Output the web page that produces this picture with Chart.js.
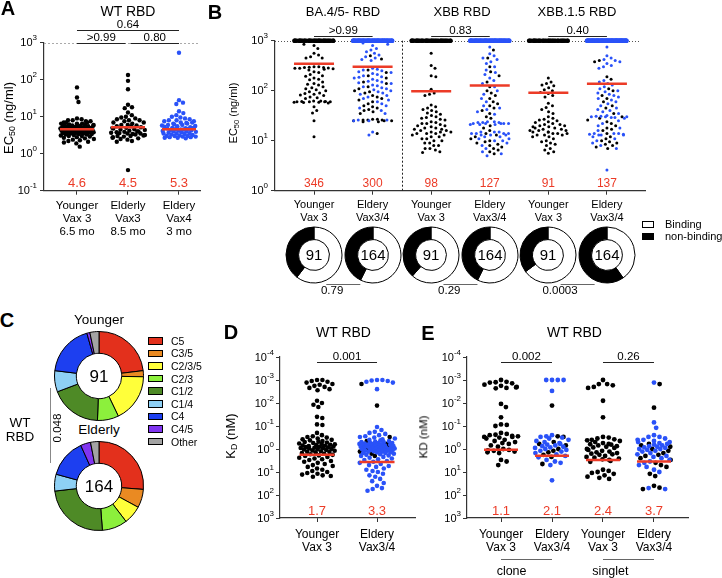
<!DOCTYPE html>
<html>
<head>
<meta charset="utf-8">
<script src="https://cdn.jsdelivr.net/npm/chart.js@4.4.1/dist/chart.umd.min.js"></script>
<style>
  body { margin:0; width:722px; height:578px; position:relative; overflow:hidden; background:#fff;
         font-family:"Liberation Sans", Arial, Helvetica, sans-serif; color:#000; }
  canvas { position:absolute; }
  .lbl { position:absolute; transform:translate(-50%,-50%); white-space:nowrap; line-height:1; }
  .lft { transform:translate(0,-50%); }
  .rot { transform:translate(-50%,-50%) rotate(-90deg); }
  .bold { font-weight:bold; }
  .box { position:absolute; border:1px solid #000; box-sizing:border-box; }
  sub { font-size:0.68em; vertical-align:-0.3em; line-height:0; }
</style>
</head>
<body>
<canvas id="chartA" width="210" height="245" style="left:0px;top:0px"></canvas>
<canvas id="chartB" width="522" height="300" style="left:200px;top:0px"></canvas>
<canvas id="chartD" width="200" height="258" style="left:220px;top:320px"></canvas>
<canvas id="chartE" width="322" height="258" style="left:400px;top:320px"></canvas>
<canvas id="pieYounger" width="92" height="92" style="left:53px;top:330px"></canvas>
<canvas id="pieElderly" width="92" height="92" style="left:53px;top:440px"></canvas>
<script>
const FONT = '"Liberation Sans", Arial, Helvetica, sans-serif';
const BLACK = '#000', BLUE = '#2a52f8', RED = '#ec3b27';
Chart.defaults.font.family = FONT;

// ---- A: WT RBD EC50 (ng/ml) ----
const aTicks = [0.1, 1, 10, 100, 1000];
const aCats = [['Younger', 'Vax 3', '6.5 mo'], ['Elderly', 'Vax3', '8.5 mo'], ['Eldery', 'Vax4', '3 mo']];
const aYounger = [62, 33, 25, 9, 8.5, 8, 8, 7.5, 7.5, 7, 7, 7, 6.5, 6.5, 6.5, 6.2, 6, 6, 6, 6, 5.8, 5.7, 5.6, 5.5, 5.5, 5.4, 5.3, 5.2, 5.1, 5, 5, 5, 4.9, 4.8, 4.8, 4.7, 4.7, 4.6, 4.6, 4.5, 4.5, 4.5, 4.4, 4.4, 4.3, 4.3, 4.2, 4.2, 4.1, 4.1, 4, 4, 4, 3.9, 3.9, 3.8, 3.8, 3.7, 3.7, 3.6, 3.6, 3.5, 3.5, 3.4, 3.4, 3.3, 3.3, 3.2, 3.1, 3, 3, 2.9, 2.8, 2.7, 2.6, 2.5, 2.4, 2.3, 2.2, 2.1, 2, 1.9, 1.55];
const aElderly = [134, 93, 55, 21, 18, 17, 13, 11, 10, 9.5, 9, 8.5, 8, 8, 7.5, 7, 7, 6.5, 6, 6, 5.8, 5.5, 5.5, 5.2, 5, 5, 4.8, 4.6, 4.5, 4.4, 4.2, 4, 4, 3.9, 3.8, 3.7, 3.6, 3.5, 3.5, 3.4, 3.3, 3.2, 3.1, 3, 3, 2.9, 2.8, 2.7, 2.6, 2.5, 2.4, 2.2, 2.1, 0.36];
const aElderlyVax4 = [537, 28, 24, 22, 14, 12.5, 11, 10, 9.5, 9, 8.5, 8, 8, 7.5, 7.5, 7, 7, 6.8, 6.5, 6.5, 6.2, 6, 6, 5.8, 5.6, 5.5, 5.4, 5.2, 5, 5, 4.9, 4.8, 4.7, 4.6, 4.5, 4.5, 4.4, 4.3, 4.2, 4.1, 4, 4, 3.9, 3.8, 3.7, 3.6, 3.5, 3.5, 3.4, 3.3, 3.2, 3.1, 3, 3, 3, 2.9, 2.9, 2.8, 2.8, 2.7, 2.7, 2.6];
const aMedianLine = [4.6, 5.2, 4.6];
const aMedianText = ['4.6', '4.5', '5.3'];

// ---- B: variant RBD EC50 ----
const bTicks = [1, 10, 100, 1000];
const bCats = [['Younger', 'Vax 3'], ['Eldery', 'Vax3/4'], ['Younger', 'Vax 3'], ['Eldery', 'Vax3/4'], ['Younger', 'Vax 3'], ['Eldery', 'Vax3/4']];
const bTitles = ['BA.4/5- RBD', 'XBB RBD', 'XBB.1.5 RBD'];
const bYoungerBA = [850, 800, 700, 560, 520, 480, 450, 450, 300, 300, 295, 290, 290, 285, 280, 280, 275, 270, 260, 240, 230, 210, 200, 195, 180, 170, 165, 150, 140, 135, 130, 120, 115, 110, 105, 100, 95, 90, 88, 85, 82, 80, 75, 72, 70, 62, 62, 61, 61, 60, 60, 60, 60, 59, 59, 58, 57, 48, 40, 36, 25, 12];
const bElderlyBAVax3 = [500, 430, 260, 230, 200, 180, 150, 140, 120, 110, 100, 95, 90, 80, 75, 70, 65, 60, 55, 50, 48, 45, 42, 40, 38, 35, 27, 27, 26, 26, 26, 25, 25, 25, 24, 24, 14];
const bElderlyBAVax4 = [900, 850, 800, 700, 650, 600, 560, 520, 480, 450, 420, 400, 280, 270, 260, 250, 240, 230, 220, 210, 200, 190, 185, 180, 170, 160, 155, 150, 145, 140, 130, 125, 120, 115, 110, 105, 100, 95, 90, 85, 80, 75, 70, 65, 60, 55, 50, 45, 40, 35, 26, 26, 25, 25, 15, 13];
const bYoungerXBB = [560, 320, 280, 200, 190, 107, 90, 85, 80, 52, 48, 45, 42, 40, 38, 36, 34, 32, 30, 29, 28, 27, 26, 24, 23, 22, 22, 21, 20, 20, 19, 18, 18, 17, 17, 16, 16, 15, 15, 15, 14, 14, 14, 13, 13, 12, 12, 11, 11, 10, 10, 9, 9, 8, 8, 7, 7, 6.5, 6, 5.8];
const bElderlyXBBVax3 = [650, 450, 300, 240, 200, 150, 120, 100, 90, 80, 70, 60, 55, 50, 45, 40, 35, 30, 28, 20, 18, 16, 14, 13, 12, 11, 10, 9.5, 9, 8.5, 8, 7.5, 7, 6.5, 6, 5.5];
const bElderlyXBBVax4 = [750, 550, 500, 450, 420, 380, 350, 300, 260, 230, 210, 180, 160, 140, 120, 100, 85, 70, 60, 50, 45, 42, 38, 34, 24, 24, 23, 23, 23, 22, 22, 22, 22, 22, 21, 21, 21, 15, 15, 15, 14, 14, 14, 14, 13, 13, 13, 12, 12, 11, 11, 10, 10, 9, 8, 7, 6, 5.5, 5];
const bYoungerXBB15 = [180, 150, 140, 130, 125, 115, 105, 100, 92, 88, 80, 75, 56, 50, 46, 42, 38, 35, 30, 28, 27, 26, 25, 24, 23, 22, 21, 21, 20, 20, 19, 19, 18, 18, 17, 17, 16, 16, 16, 15, 15, 15, 14, 14, 14, 13, 13, 13, 12, 12, 11, 10, 9.5, 9, 8.5, 8, 7, 6.5, 6, 5.6];
const bElderlyXBB15Vax3 = [400, 380, 190, 170, 110, 100, 80, 70, 60, 50, 45, 35, 30, 28, 26, 24, 22, 20, 18, 17, 16, 14, 12, 11, 10, 9.5, 9, 8.5, 8, 7.5, 7];
const bElderlyXBB15Vax4 = [750, 500, 450, 420, 400, 380, 350, 320, 300, 280, 160, 150, 140, 130, 120, 110, 100, 95, 90, 85, 80, 75, 70, 65, 60, 55, 50, 45, 42, 40, 38, 35, 32, 31, 31, 30, 30, 30, 29, 29, 28, 25, 22, 20, 18, 16, 14, 14, 14, 13.5, 13.5, 13, 13, 13, 12, 11, 10, 9, 8, 7, 2.6];
const bMedians = [346, 300, 98, 127, 91, 137];
// binding / non-binding counts (donuts); non-binding clones sit at the 10^3 limit
const bBinding = [55, 94, 56, 94, 59, 66];
const bNonBinding = [36, 70, 35, 70, 32, 98];
const bLimit = 1000;
const bDonutP = ['0.79', '0.29', '0.0003'];

// ---- C: epitope classes ----
const cClasses = ['C5', 'C3/5', 'C2/3/5', 'C2/3', 'C1/2', 'C1/4', 'C4', 'C4/5', 'Other'];
const cColors = ['#e3301c', '#ea8a22', '#ffff3a', '#8cf03c', '#4e8a26', '#8ed0f5', '#1d3ff0', '#8035f0', '#a3a3a3'];
const cYounger = [21, 2, 16, 7, 17, 7, 17, 1, 3];
const cElderly = [43, 11, 11, 15, 40, 10, 23, 6, 5];

// ---- D / E: KD (nM) ----
const kdTicks = [1e-4, 1e-3, 1e-2, 1e-1, 1, 10, 100, 1000];
const dCats = [['Younger', 'Vax 3'], ['Eldery', 'Vax3/4']];
const dYounger = [0.001, 0.001, 0.0011, 0.0012, 0.0013, 0.0015, 0.0016, 0.0018, 0.002, 0.0022, 0.0025, 0.0028, 0.008, 0.01, 0.012, 0.015, 0.04, 0.045, 0.085, 0.09, 0.2, 0.25, 0.28, 0.3, 0.32, 0.35, 0.38, 0.4, 0.42, 0.45, 0.48, 0.5, 0.52, 0.55, 0.58, 0.6, 0.62, 0.65, 0.68, 0.7, 0.72, 0.75, 0.78, 0.8, 0.82, 0.85, 0.88, 0.9, 0.92, 0.95, 1, 1, 1.05, 1.1, 1.15, 1.2, 1.25, 1.3, 1.35, 1.4, 1.5, 1.6, 1.7, 1.8, 1.9, 2, 2.2, 2.4, 2.6, 2.8, 3, 3.3, 3.6, 4, 4.5, 5, 5.5, 6, 7, 8, 9, 10, 11, 12, 13, 14, 15, 16];
const dElderlyVax3 = [0.0015, 0.013, 0.3, 0.45, 0.6, 0.8, 1, 1.3, 1.6, 2];
const dElderlyVax4 = [0.001, 0.001, 0.00105, 0.0011, 0.0012, 0.0013, 0.0025, 0.11, 0.15, 0.18, 0.2, 0.22, 0.25, 0.28, 0.3, 0.32, 0.35, 0.38, 0.4, 0.42, 0.45, 0.48, 0.5, 0.5, 0.52, 0.55, 0.55, 0.58, 0.6, 0.6, 0.62, 0.65, 0.65, 0.68, 0.7, 0.7, 0.72, 0.75, 0.75, 0.78, 0.8, 0.8, 0.82, 0.85, 0.85, 0.88, 0.9, 0.9, 0.92, 0.95, 0.95, 1, 1, 1, 1.05, 1.1, 1.1, 1.15, 1.2, 1.2, 1.25, 1.3, 1.3, 1.4, 1.4, 1.5, 1.5, 1.6, 1.7, 1.8, 1.9, 2, 2.2, 2.4, 2.6, 2.8, 3, 3.3, 3.6, 4, 4.5, 5, 5.5, 6, 7, 8, 9, 10, 12, 14, 16, 20, 25, 30, 40, 50, 55, 65];
const dMedianLine = [1.8, 3.7];
const dMedianText = ['1.7', '3.3'];

const eCats = [['Younger', 'Vax 3'], ['Eldery', 'Vax3/4'], ['Younger', 'Vax 3'], ['Eldery', 'Vax3/4']];
const eYoungerClone = [0.001, 0.0012, 0.00125, 0.0013, 0.0014, 0.0016, 0.0018, 0.002, 0.0021, 0.0022, 0.0023, 0.011, 0.015, 0.042, 0.085, 0.09, 0.1, 0.2, 0.22, 0.24, 0.25, 0.27, 0.28, 0.3, 0.3, 0.32, 0.35, 0.4, 0.45, 0.5, 0.55, 0.6, 0.7, 0.8, 1, 1.1, 1.15, 1.2, 1.3, 1.4, 1.5, 3, 3.5, 5];
const eElderlyCloneVax3 = [0.013, 0.28, 0.3, 0.5, 0.6, 0.7, 1, 1.2, 1.4, 1.8, 2.2, 4.5];
const eElderlyCloneVax4 = [0.001, 0.001, 0.001, 0.001, 0.003, 0.25, 0.28, 0.3, 0.32, 0.35, 0.4, 0.45, 0.5, 0.55, 0.6, 0.65, 0.7, 0.75, 0.8, 0.85, 0.9, 1, 1.1, 1.2, 1.3, 1.5, 1.7, 2, 2.3, 3, 3.5, 4, 5, 23];
const eYoungerSinglet = [0.001, 0.0015, 0.0015, 0.0017, 0.002, 0.0022, 0.008, 0.042, 0.3, 0.32, 0.35, 0.38, 0.4, 0.42, 0.45, 0.5, 0.55, 0.6, 0.62, 0.65, 0.7, 0.75, 0.8, 0.85, 0.9, 1, 1.1, 1.2, 1.3, 1.4, 1.5, 1.6, 1.7, 1.8, 2, 2.2, 2.4, 2.6, 2.8, 3, 3.3, 3.6, 8, 9, 10, 11, 12, 14, 16, 18, 20];
const eElderlySingletVax3 = [0.0015, 0.016, 0.6, 0.7, 0.8, 1, 1.2, 1.5, 1.8, 2, 2.5, 3, 4, 5, 6, 12, 15, 40, 48, 55];
const eElderlySingletVax4 = [0.0013, 0.07, 0.12, 0.25, 0.3, 0.3, 0.35, 0.4, 0.4, 0.45, 0.5, 0.5, 0.55, 0.6, 0.65, 0.7, 0.75, 0.8, 0.85, 0.9, 1, 1, 1.1, 1.2, 1.3, 1.5, 1.7, 2, 2.2, 2.5, 3, 3.5, 4, 5, 6, 8, 10, 50, 55];
const eMedianLine = [1.08, 1.95, 3.0, 3.5];
const eMedianText = ['1.1', '2.1', '2.4', '3.7'];

// repeated points at the assay limit
function atLimit(n) { const out = []; for (let k = 0; k < n; k++) out.push(bLimit); return out; }

// "10" with a raised exponent
function drawPow(ctx, x, y, v, size) {
  const e = String(Math.round(Math.log10(v)));
  const es = Math.round(size * 0.72);
  ctx.textAlign = 'right';
  ctx.textBaseline = 'middle';
  ctx.font = `${es}px ${FONT}`;
  const ew = ctx.measureText(e).width;
  ctx.fillText(e, x, y - size * 0.42);
  ctx.font = `${size}px ${FONT}`;
  ctx.fillText('10', x - ew, y + 0.5);
}

function decor(cfg) {
  return {
    id: 'decor',
    beforeDatasetsDraw(chart) {
      const { ctx, chartArea: ca, scales: { x, y } } = chart;
      ctx.save();
      (cfg.hDotted || []).forEach(h => {
        const py = Math.round(y.getPixelForValue(h.value)) + 0.5;
        ctx.strokeStyle = h.color; ctx.lineWidth = 1; ctx.setLineDash(h.dash);
        ctx.beginPath(); ctx.moveTo(ca.left, py); ctx.lineTo(ca.right - (h.cut || 0), py); ctx.stroke();
      });
      (cfg.vDotted || []).forEach(v => {
        const px = Math.round(x.getPixelForValue(v.value)) + 0.5;
        ctx.strokeStyle = v.color; ctx.lineWidth = 1; ctx.setLineDash(v.dash);
        ctx.beginPath(); ctx.moveTo(px, ca.top); ctx.lineTo(px, ca.bottom); ctx.stroke();
      });
      ctx.restore();
    },
    afterDatasetsDraw(chart) {
      const { ctx, chartArea: ca, scales: { x, y } } = chart;
      ctx.save();
      // median bars and values
      cfg.medians.forEach((m, i) => {
        const px = x.getPixelForValue(i + 1), py = y.getPixelForValue(m);
        ctx.strokeStyle = RED; ctx.lineWidth = 2.5;
        ctx.beginPath(); ctx.moveTo(px - cfg.medianHalf, py); ctx.lineTo(px + cfg.medianHalf, py); ctx.stroke();
        ctx.fillStyle = RED; ctx.font = `${cfg.medianFont}px ${FONT}`;
        ctx.textAlign = 'center'; ctx.textBaseline = 'middle';
        ctx.fillText(cfg.medianText[i], px, ca.bottom + cfg.medianDy);
      });
      // comparison brackets
      ctx.fillStyle = '#000'; ctx.strokeStyle = '#222'; ctx.lineWidth = 1;
      (cfg.brackets || []).forEach(b => {
        const x1 = x.getPixelForValue(b.a) + (b.padA || 0), x2 = x.getPixelForValue(b.b) - (b.padB || 0);
        const ly = Math.round(ca.top + b.dy) + 0.5;
        ctx.beginPath(); ctx.moveTo(x1, ly); ctx.lineTo(x2, ly); ctx.stroke();
        ctx.font = `11.5px ${FONT}`; ctx.textAlign = 'center'; ctx.textBaseline = 'alphabetic';
        ctx.fillText(b.text, (x1 + x2) / 2, ly - 3);
      });
      // category labels
      ctx.font = `${cfg.catFont}px ${FONT}`; ctx.textAlign = 'center'; ctx.textBaseline = 'middle';
      cfg.cats.forEach((lines, i) => {
        const px = x.getPixelForValue(i + 1);
        lines.forEach((t, k) => ctx.fillText(t, px, ca.bottom + cfg.catY + k * cfg.catLH));
      });
      // y tick labels
      cfg.yTicks.forEach(v => drawPow(ctx, ca.left - cfg.tickGap, y.getPixelForValue(v), v, cfg.tickFont));
      // group underlines (clone / singlet) and donut p-values
      ctx.strokeStyle = '#666';
      (cfg.groupLabels || []).forEach(g => {
        const x1 = x.getPixelForValue(g.a), x2 = x.getPixelForValue(g.b);
        const ly = Math.round(ca.bottom + 41) + 0.5;
        ctx.beginPath(); ctx.moveTo(x1, ly); ctx.lineTo(x2, ly); ctx.stroke();
        ctx.font = `12.5px ${FONT}`; ctx.textBaseline = 'middle';
        ctx.fillText(g.text, (x1 + x2) / 2, ly + 12);
      });
      (cfg.pairs || []).forEach(p => {
        const mid = (x.getPixelForValue(p.a) + x.getPixelForValue(p.b)) / 2;
        ctx.beginPath(); ctx.moveTo(mid - 17, 284.5); ctx.lineTo(mid + 17, 284.5); ctx.stroke();
        ctx.font = `11.5px ${FONT}`; ctx.textBaseline = 'middle';
        ctx.fillText(p.text, mid, 291);
      });
      ctx.restore();
    }
  };
}

// beeswarm: x offsets from the y pixel of each value
function swarmLayout(chart, cfg) {
  const xs = chart.scales.x, ys = chart.scales.y;
  const unit = xs.getPixelForValue(2) - xs.getPixelForValue(1);
  const d = 2 * cfg.r + cfg.gap;
  chart.data.datasets.forEach((ds, gi) => {
    const items = ds.data.map(p => ({ p, py: ys.getPixelForValue(p.y) }));
    items.sort((u, w) => u.py - w.py);
    const placed = [];
    items.forEach((it, k) => {
      const near = placed.filter(q => Math.abs(q.py - it.py) < d);
      const cands = [0];
      near.forEach(q => {
        const dx = Math.sqrt(d * d - (q.py - it.py) ** 2);
        cands.push(q.px + dx, q.px - dx);
      });
      cands.sort((u, w) => Math.abs(u) - Math.abs(w));
      let px = cands.find(c => Math.abs(c) <= cfg.half &&
        near.every(q => (q.px - c) ** 2 + (q.py - it.py) ** 2 >= d * d - 0.01));
      if (px === undefined) px = cfg.half * (((k * 0.618) % 1) * 2 - 1);
      it.px = px;
      placed.push(it);
      it.p.x = gi + 1 + px / unit;
    });
  });
  chart.update('none');
}

function swarmChart(id, cfg) {
  const cv = document.getElementById(id);
  const W = cv.width, H = cv.height, a = cfg.area;
  const datasets = cfg.groups.map((parts, gi) => {
    const pts = [], cols = [], rads = [];
    parts.forEach(([vals, col, rad]) => vals.forEach(v => {
      pts.push({ x: gi + 1, y: v }); cols.push(col); rads.push(rad || cfg.r);
    }));
    return { data: pts, pointBackgroundColor: cols, pointBorderWidth: 0, pointRadius: rads, pointHoverRadius: rads, showLine: false, clip: false };
  });
  const axisColor = '#333';
  const chart = new Chart(cv, {
    type: 'scatter',
    data: { datasets },
    options: {
      responsive: false, animation: false, events: [],
      layout: { padding: { top: a.top, right: W - a.right, left: 0, bottom: 0 } },
      plugins: { legend: { display: false }, tooltip: { enabled: false } },
      scales: {
        x: {
          type: 'linear', min: cfg.xMin, max: cfg.xMax,
          afterBuildTicks: s => { s.ticks = cfg.cats.map((c, i) => ({ value: i + 1 })); },
          afterFit: s => { s.height = H - a.bottom; },
          ticks: { display: false },
          grid: { drawOnChartArea: false, drawTicks: true, tickLength: 4, color: axisColor, lineWidth: 1 },
          border: { color: axisColor, width: 1.2 }
        },
        y: {
          type: 'logarithmic', min: cfg.yMin, max: cfg.yMax, reverse: !!cfg.reverse,
          afterBuildTicks: s => { s.ticks = cfg.yTicks.map(v => ({ value: v })); },
          afterFit: s => { s.width = a.left; },
          ticks: { display: false },
          grid: { drawOnChartArea: false, drawTicks: true, tickLength: 4, color: axisColor, lineWidth: 1 },
          border: { color: axisColor, width: 1.2 }
        }
      }
    },
    plugins: [decor(cfg)]
  });
  swarmLayout(chart, cfg);
  return chart;
}

function ringChart(cv, data, colors, cutout, fontSize, pad) {
  return new Chart(cv, {
    type: 'doughnut',
    data: { labels: data.map((d, i) => String(i)), datasets: [{ data, backgroundColor: colors, borderColor: '#000', borderWidth: 1, hoverOffset: 0, offset: 0 }] },
    options: {
      responsive: false, animation: false, events: [], cutout,
      layout: { padding: pad },
      plugins: { legend: { display: false }, tooltip: { enabled: false } }
    },
    plugins: [{
      id: 'center',
      afterDraw(chart) {
        const { ctx, chartArea: ca } = chart;
        const total = chart.data.datasets[0].data.reduce((s, v) => s + v, 0);
        ctx.save();
        ctx.fillStyle = '#000'; ctx.font = `${fontSize}px ${FONT}`;
        ctx.textAlign = 'center'; ctx.textBaseline = 'middle';
        ctx.fillText(String(total), (ca.left + ca.right) / 2, (ca.top + ca.bottom) / 2 + 1);
        ctx.restore();
      }
    }]
  });
}

function txt(x, y, html, size, cls, extra) {
  const el = document.createElement('div');
  el.className = 'lbl ' + (cls || '');
  el.style.left = x + 'px'; el.style.top = y + 'px'; el.style.fontSize = size + 'px';
  el.innerHTML = html;
  if (extra) Object.assign(el.style, extra);
  document.body.appendChild(el);
  return el;
}
function rect(x, y, w, h, fill, border) {
  const el = document.createElement('div');
  el.className = 'box';
  Object.assign(el.style, { left: x + 'px', top: y + 'px', width: w + 'px', height: h + 'px', background: fill });
  if (border === false) el.style.border = 'none';
  document.body.appendChild(el);
}

// ---------- panel A ----------
swarmChart('chartA', {
  area: { left: 44, top: 42.7, right: 200, bottom: 190.7 },
  xMin: 0.353, xMax: 3.412, yMin: 0.1, yMax: 1000, yTicks: aTicks,
  r: 2.2, half: 17, gap: 0.3,
  groups: [[[aYounger, BLACK]], [[aElderly, BLACK]], [[aElderlyVax4, BLUE]]],
  medians: aMedianLine, medianText: aMedianText, medianHalf: 17, medianFont: 13, medianDy: -7.5,
  cats: aCats, catFont: 11.5, catY: 15.3, catLH: 13,
  tickFont: 11, tickGap: 7,
  brackets: [{ a: 1, b: 3, dy: -12.7, text: '0.64' }, { a: 1, b: 2, dy: 0, text: '>0.99', padB: 2.5 }, { a: 2, b: 3, dy: 0, text: '0.80', padA: 2.5 }],
  hDotted: [{ value: 1000, color: '#aaa', dash: [2, 2] }]
});

// ---------- panel B ----------
const chartB = swarmChart('chartB', {
  area: { left: 75, top: 40.7, right: 445, bottom: 190.7 },
  xMin: 0.334, xMax: 6.65, yMin: 1, yMax: 1000, yTicks: bTicks,
  r: 1.5, half: 20, gap: 1.8,
  groups: [
    [[atLimit(bNonBinding[0]), BLACK, 2.3], [bYoungerBA, BLACK]],
    [[atLimit(bNonBinding[1]), BLUE, 2.3], [bElderlyBAVax3, BLACK], [bElderlyBAVax4, BLUE]],
    [[atLimit(bNonBinding[2]), BLACK, 2.3], [bYoungerXBB, BLACK]],
    [[atLimit(bNonBinding[3]), BLUE, 2.3], [bElderlyXBBVax3, BLACK], [bElderlyXBBVax4, BLUE]],
    [[atLimit(bNonBinding[4]), BLACK, 2.3], [bYoungerXBB15, BLACK]],
    [[atLimit(bNonBinding[5]), BLUE, 2.3], [bElderlyXBB15Vax3, BLACK], [bElderlyXBB15Vax4, BLUE]]
  ],
  medians: bMedians, medianText: bMedians.map(String), medianHalf: 20, medianFont: 12, medianDy: -7.5,
  cats: bCats, catFont: 11, catY: 14.3, catLH: 13,
  tickFont: 11, tickGap: 7,
  brackets: [{ a: 1, b: 2, dy: -5, text: '>0.99' }, { a: 3, b: 4, dy: -5, text: '0.83' }, { a: 5, b: 6, dy: -5, text: '0.40' }],
  hDotted: [{ value: 1000, color: '#555', dash: [1, 2], cut: 5 }],
  vDotted: [{ value: 2.5, color: '#222', dash: [2, 2] }],
  pairs: [{ a: 1, b: 2, text: bDonutP[0] }, { a: 3, b: 4, text: bDonutP[1] }, { a: 5, b: 6, text: bDonutP[2] }]
});

bBinding.forEach((n, i) => {
  const cv = document.createElement('canvas');
  cv.width = 62; cv.height = 62;
  cv.style.left = (200 + chartB.scales.x.getPixelForValue(i + 1) - 31) + 'px';
  cv.style.top = (255 - 31) + 'px';
  document.body.appendChild(cv);
  ringChart(cv, [n, bNonBinding[i]], ['#fff', '#000'], '55%', 15, 2.5);
});

// ---------- panel C ----------
ringChart(document.getElementById('pieYounger'), cYounger, cColors, '51%', 17, 1);
ringChart(document.getElementById('pieElderly'), cElderly, cColors, '51%', 17, 1);

// ---------- panel D ----------
swarmChart('chartD', {
  area: { left: 60, top: 37, right: 195, bottom: 198 },
  xMin: 0.383, xMax: 2.633, yMin: 1e-4, yMax: 1000, reverse: true, yTicks: kdTicks,
  r: 2.3, half: 18, gap: 0.8,
  groups: [[[dYounger, BLACK]], [[dElderlyVax3, BLACK], [dElderlyVax4, BLUE]]],
  medians: dMedianLine, medianText: dMedianText, medianHalf: 17.5, medianFont: 13, medianDy: -6.5,
  cats: dCats, catFont: 12, catY: 17, catLH: 13,
  tickFont: 11, tickGap: 6,
  brackets: [{ a: 1, b: 2, dy: 5, text: '0.001' }]
});

// ---------- panel E ----------
swarmChart('chartE', {
  area: { left: 67, top: 37, right: 288, bottom: 198 },
  xMin: 0.333, xMax: 4.667, yMin: 1e-4, yMax: 1000, reverse: true, yTicks: kdTicks,
  r: 2.4, half: 17, gap: 1.0,
  groups: [
    [[eYoungerClone, BLACK]],
    [[eElderlyCloneVax3, BLACK], [eElderlyCloneVax4, BLUE]],
    [[eYoungerSinglet, BLACK]],
    [[eElderlySingletVax3, BLACK], [eElderlySingletVax4, BLUE]]
  ],
  medians: eMedianLine, medianText: eMedianText, medianHalf: 17, medianFont: 13, medianDy: -7,
  cats: eCats, catFont: 12, catY: 17, catLH: 13,
  tickFont: 11, tickGap: 6,
  brackets: [{ a: 1, b: 2, dy: 5, text: '0.002' }, { a: 3, b: 4, dy: 5, text: '0.26' }],
  groupLabels: [{ a: 1, b: 2, text: 'clone' }, { a: 3, b: 4, text: 'singlet' }]
});

// ---------- static text ----------
txt(8, 8, 'A', 20, 'bold');
txt(215, 12, 'B', 20, 'bold');
txt(7, 320, 'C', 20, 'bold');
txt(231, 332, 'D', 20, 'bold');
txt(428, 333, 'E', 20, 'bold');

txt(128, 11, 'WT RBD', 14);
[343, 462, 577].forEach((x, i) => txt(x, 11, bTitles[i], 13));
txt(343.5, 332, 'WT RBD', 14);
txt(574.5, 332, 'WT RBD', 14);

txt(7.5, 118, 'EC<sub>50</sub> (ng/ml)', 13, 'rot');
txt(233, 113, 'EC<sub>50</sub> (ng/ml)', 11, 'rot');
txt(230, 436, 'K<sub>D</sub> (nM)', 13, 'rot');
txt(424, 436.5, 'KD (nM)', 11.5, 'rot');

// B legend
rect(642, 220.5, 12, 7.5, '#fff');
rect(642, 232.5, 12, 7.5, '#000');
txt(665, 224, 'Binding', 11, 'lft');
txt(665, 236, 'non-binding', 11, 'lft');

// C labels and legend
txt(99, 320, 'Younger', 13.5);
txt(99, 430, 'Elderly', 13.5);
txt(20, 423, 'WT', 13.5);
txt(20, 437, 'RBD', 13.5);
rect(50, 388, 1, 75, '#888', false);
txt(58, 428, '0.048', 11.5, 'rot');
cClasses.forEach((c, k) => {
  const y = 340.7 + k * 12.6;
  rect(148, y - 3.7, 15, 7.5, cColors[k]);
  txt(171, y, c, 10.5, 'lft');
});
</script>
</body>
</html>
